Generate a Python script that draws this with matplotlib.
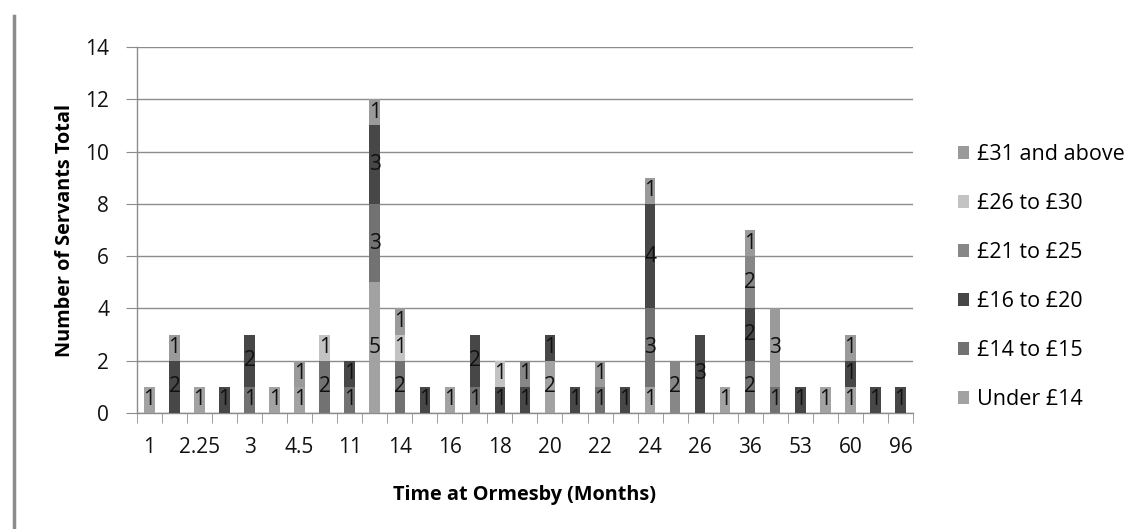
import matplotlib
matplotlib.use("Agg")
import matplotlib.pyplot as plt
import numpy as np
from matplotlib.lines import Line2D

plt.rcParams['font.family'] = ['Open Sans', 'DejaVu Sans']

# Categories (months at Ormesby); only every other label is displayed in the chart
categories = ["1", "2", "2.25", "2.5", "3", "4", "4.5", "6", "11", "12",
              "14", "15", "16", "17", "18", "19", "20", "21", "22", "23",
              "24", "25", "26", "30", "36", "48", "53", "56", "60", "72", "96"]

series_names = ["Under £14", "£14 to £15", "£16 to £20", "£21 to £25",
                "£26 to £30", "£31 and above"]

under14 = [1, 0, 1, 0, 0, 1, 1, 0, 0, 5, 0, 0, 1, 0, 0, 0, 2, 0, 0, 0,
           1, 0, 0, 1, 0, 0, 0, 1, 1, 0, 0]
p14_15 = [0, 0, 0, 0, 1, 0, 0, 2, 1, 3, 2, 0, 0, 1, 0, 0, 0, 0, 1, 0,
          3, 0, 0, 0, 2, 1, 0, 0, 0, 0, 0]
p16_20 = [0, 2, 0, 1, 2, 0, 0, 0, 1, 3, 0, 1, 0, 2, 1, 1, 1, 1, 0, 1,
          4, 0, 3, 0, 2, 0, 1, 0, 1, 1, 1]
p21_25 = [0, 0, 0, 0, 0, 0, 0, 0, 0, 0, 0, 0, 0, 0, 0, 1, 0, 0, 0, 0,
          0, 2, 0, 0, 2, 0, 0, 0, 0, 0, 0]
p26_30 = [0, 0, 0, 0, 0, 0, 0, 1, 0, 0, 1, 0, 0, 0, 1, 0, 0, 0, 0, 0,
          0, 0, 0, 0, 0, 0, 0, 0, 0, 0, 0]
p31_up = [0, 1, 0, 0, 0, 0, 1, 0, 0, 1, 1, 0, 0, 0, 0, 0, 0, 0, 1, 0,
          1, 0, 0, 0, 1, 3, 0, 0, 1, 0, 0]

series_values = [under14, p14_15, p16_20, p21_25, p26_30, p31_up]
series_colors = ["#a2a2a2", "#727272", "#474747", "#878787", "#c3c3c3", "#9a9a9a"]

fig = plt.figure(figsize=(11.47, 5.29), dpi=100)
ax = fig.add_axes([0.1194, 0.2193, 0.6765, 0.6917])

x = np.arange(len(categories))
bottom = np.zeros(len(categories))
for name, vals, col in zip(series_names, series_values, series_colors):
    vals = np.array(vals, dtype=float)
    bc = ax.bar(x, vals, width=0.42, bottom=bottom, color=col, label=name, zorder=3)
    labels = [str(int(v)) if v > 0 else "" for v in vals]
    ax.bar_label(bc, labels=labels, label_type='center', fontsize=15, color="#111111")
    bottom += vals

ax.set_xlim(-0.5, len(categories) - 0.5)
ax.set_ylim(0, 14)
ax.set_yticks(np.arange(0, 15, 2))
ax.yaxis.grid(True, color="#8c8c8c", linewidth=1.0, zorder=0)
ax.set_axisbelow(True)

ax.set_xticks(x[::2])
ax.set_xticklabels(categories[::2])
ax.set_xticks(np.arange(-0.5, len(categories), 1), minor=True)
ax.tick_params(axis='x', which='major', length=0, pad=17, labelsize=15, colors="#111111")
ax.tick_params(axis='x', which='minor', length=7, color="#8c8c8c", direction='out')
ax.tick_params(axis='y', length=8, color="#8c8c8c", direction='out', pad=12,
               labelsize=15, labelcolor="#111111")

for s in ["top", "right"]:
    ax.spines[s].set_visible(False)
for s in ["left", "bottom"]:
    ax.spines[s].set_color("#8c8c8c")
    ax.spines[s].set_linewidth(1.0)

ax.set_xlabel("Time at Ormesby (Months)", fontsize=14.3, fontweight='bold', labelpad=20)
ax.set_ylabel("Number of Servants Total", fontsize=14.3, fontweight='bold', labelpad=7)

handles, labs = ax.get_legend_handles_labels()
leg = fig.legend(handles[::-1], labs[::-1], loc='center left',
                 bbox_to_anchor=(0.818, 0.476), frameon=False, fontsize=15.5,
                 handlelength=0.55, handleheight=0.55, handletextpad=0.35,
                 labelspacing=1.3)

fig.add_artist(Line2D([0.0125, 0.0125], [0.0, 0.97], transform=fig.transFigure,
                      color="#8c8c8c", linewidth=2.5))

fig.savefig("out.png", dpi=100)
